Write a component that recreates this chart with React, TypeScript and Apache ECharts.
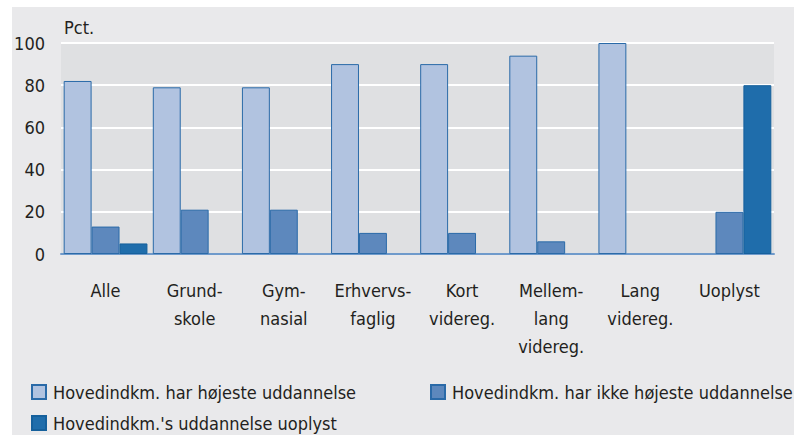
import React, { useEffect, useRef } from "react";
import * as echarts from "echarts";

const categories = [
  "Alle",
  "Grund-\nskole",
  "Gym-\nnasial",
  "Erhvervs-\nfaglig",
  "Kort\nvidereg.",
  "Mellem-\nlang\nvidereg.",
  "Lang\nvidereg.",
  "Uoplyst",
];
const seriesNames = [
  "Hovedindkm. har højeste uddannelse",
  "Hovedindkm. har ikke højeste uddannelse",
  "Hovedindkm.'s uddannelse uoplyst",
];
const highest = [82, 79, 79, 90, 90, 94, 100, null];
const notHighest = [13, 21, 21, 10, 10, 6, null, 20];
const unknown = [5, null, null, null, null, null, null, 80];
const yTicks = [0, 20, 40, 60, 80, 100];

const FONT = "'DejaVu Sans Condensed', 'Open Sans', sans-serif";
const TEXT = "#231f20";
const colors = ["#b1c3e0", "#5d88bd", "#1f6dab"];

export default function App() {
  const ref = useRef<HTMLDivElement>(null);
  useEffect(() => {
    document.body.style.margin = "0";
    const chart = echarts.init(ref.current!, null, { renderer: "svg" });
    const data = [highest, notHighest, unknown];
    chart.setOption({
      animation: false,
      backgroundColor: "#ffffff",
      textStyle: { fontFamily: FONT, color: TEXT },
      graphic: [
        {
          type: "rect",
          z: -10,
          shape: { x: 12, y: 7, width: 782, height: 428 },
          style: { fill: "#e9e9eb" },
          silent: true,
        },
        {
          type: "text",
          left: 64,
          top: 18,
          style: { text: "Pct.", fontFamily: FONT, fontSize: 18, fill: TEXT },
        },
      ],
      grid: {
        left: 61,
        right: 20,
        top: 43,
        bottom: 181,
        show: true,
        backgroundColor: "#dfe0e2",
        borderWidth: 0,
        containLabel: false,
      },
      xAxis: {
        type: "category",
        data: categories,
        axisTick: { show: false },
        axisLine: { lineStyle: { color: "#6f9acb", width: 2 } },
        axisLabel: {
          interval: 0,
          margin: 22,
          fontSize: 18,
          lineHeight: 28,
          color: TEXT,
          fontFamily: FONT,
          verticalAlign: "top",
        },
      },
      yAxis: {
        type: "value",
        min: yTicks[0],
        max: yTicks[yTicks.length - 1],
        interval: 20,
        axisLine: { show: false },
        axisTick: { show: false },
        axisLabel: { margin: 16, fontSize: 18, color: TEXT, fontFamily: FONT },
        splitLine: { lineStyle: { color: "#ffffff", width: 2 } },
      },
      legend: seriesNames.map((n, i) => ({
        data: [n],
        left: i === 1 ? 430 : 31,
        top: i === 2 ? 414 : 383,
        itemWidth: 14,
        itemHeight: 14,
        icon: "rect",
        selectedMode: false,
        textStyle: { fontSize: 18, color: TEXT, fontFamily: FONT, padding: [0, 0, 0, 2] },
        padding: 0,
      })),
      series: seriesNames.map((n, i) => ({
        name: n,
        type: "bar",
        data: data[i],
        barGap: "0%",
        barCategoryGap: "6%",
        itemStyle: {
          color: colors[i],
          borderColor: i === 2 ? "#15609c" : "#2a6aa8",
          borderWidth: 1,
        },
      })),
    });
    return () => chart.dispose();
  }, []);
  return <div ref={ref} style={{ width: 794, height: 435 }} />;
}
